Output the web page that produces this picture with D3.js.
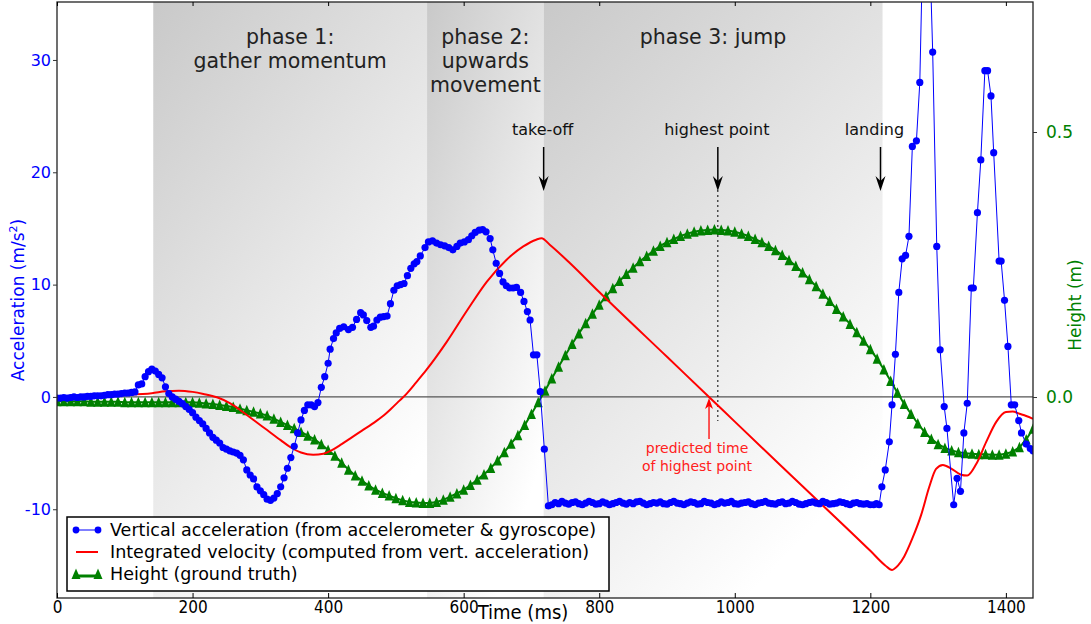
<!DOCTYPE html>
<html><head><meta charset="utf-8">
<script src="https://cdn.jsdelivr.net/npm/d3@7"></script>
<style>body{margin:0;background:#fff}svg{display:block}</style>
</head><body><svg id="c" width="1091" height="624"></svg>
<script>
// ---------------- DATA ----------------
// vertical acceleration (m/s^2): segment sampled every 5 ms from t=0
const accStep = 5;
const accEarly = [-0.1,-0.1,-0.05,-0.1,-0.05,0,-0.05,0,0,0.05,0.05,0.1,0.1,0.1,0.15,0.2,0.2,0.25,0.25,0.3,0.35,0.35,0.4,
  0.45,1.07,1.16,1.8,2.25,2.47,2.3,2.0,1.7,0.9,0.3,0.0,-0.2,-0.4,-0.6,-0.86,-1.1,-1.4,-1.8,-2.1,-2.4,-2.8,
  -3.2,-3.6,-3.85,-4.1,-4.5,-4.65,-4.8,-4.9,-5.0,-5.2,-5.6,-6.5,-6.95,-7.3,-8.0,-8.35,-8.7,-9.1,-9.2,-9.0,
  -8.6,-8.0,-7.2,-6.35,-5.4,-4.4,-3.2,-2.05,-1.2,-0.7,-0.7,-0.86,-0.5,0.86,1.8,3.0];
// [time ms, acceleration]
const accPush = [[403,4.25],[408,5.2],[412,5.7],[417,6.1],[423,6.25],[430,6.0],[436,6.2],[442,6.9],[448,7.5],[452,7.3],
  [457,6.8],[463,6.2],[467,6.3],[472,6.85],[477,7.1],[482,7.15],[487,7.2],[492,8.3],[497,9.5],[502,9.9],[507,10.0],
  [512,10.1],[517,10.8],[522,11.45],[527,11.85],[531,12.05],[536,12.55],[543,13.3],[548,13.8],[554,13.9],[560,13.7],
  [566,13.55],[572,13.45],[578,13.3],[584,13.1],[590,13.4],[595,13.7],[601,13.8],[607,14.0],[612,14.35],[617,14.65],
  [623,14.85],[628,14.9],[633,14.7],[639,14.1],[643,13.1],[648,11.9],[653,11.0],[658,10.25],[663,9.9],[668,9.7],
  [673,9.7],[678,9.75],[684,9.3],[689,8.5],[694,7.6],[698,6.85],[703,3.75],[708,3.75],[713,0.47],[719,-4.65],[725,-9.7]];
// free flight, sampled every 5 ms from t=730
const accFlightStart = 730;
const accFlight = [-9.6,-9.4,-9.5,-9.3,-9.45,-9.55,-9.4,-9.35,-9.5,-9.6,-9.45,-9.3,-9.4,-9.55,-9.5,-9.35,-9.45,-9.6,-9.5,-9.4,
  -9.3,-9.45,-9.55,-9.4,-9.5,-9.35,-9.3,-9.45,-9.6,-9.5,-9.4,-9.45,-9.35,-9.5,-9.55,-9.4,-9.3,-9.45,-9.5,-9.6,
  -9.45,-9.35,-9.4,-9.55,-9.5,-9.3,-9.4,-9.45,-9.6,-9.5,-9.35,-9.45,-9.4,-9.3,-9.5,-9.55,-9.45,-9.4,-9.35,-9.5,
  -9.6,-9.45,-9.4,-9.3,-9.45,-9.5,-9.55,-9.4,-9.35,-9.5,-9.45,-9.3,-9.4,-9.55,-9.6,-9.5,-9.4,-9.35,-9.45,-9.5,
  -9.3,-9.4,-9.55,-9.5,-9.45,-9.35,-9.4,-9.5,-9.6,-9.45,-9.4,-9.5,-9.55,-9.5,-9.6];
const accLanding = [[1205,-9.6],[1209,-9.5],[1213,-9.6],[1217,-8.0],[1222,-6.5],[1228,-4.0],[1232,-0.7],[1237,3.8],
  [1242,9.3],[1247,12.3],[1252,12.6],[1257,14.3],[1262,22.3],[1268,22.8],[1273,28.0],[1278,42.0],[1283,45.0],
  [1288,39.0],[1292,30.7],[1298,13.4],[1303,4.2],[1309,-0.86],[1313,-2.8],[1323,-9.6],[1328,-7.25],[1333,-8.4],
  [1338,-3.2],[1343,-0.56],[1349,9.7],[1352,9.7],[1358,16.4],[1363,21.1],[1369,29.05],[1373,29.05],[1378,26.8],
  [1382,21.75],[1390,12.1],[1393,12.1],[1398,8.6],[1403,4.5],[1408,-0.7],[1413,-0.7],[1419,-2.1],[1423,-3.2],
  [1430,-4.2],[1436,-4.6],[1440,-4.8]];

// integrated velocity (plotted on the left axis): [time ms, value]
const velocity = [[0,0.05],[60,0.15],[100,0.2],[140,0.33],[160,0.5],[180,0.56],[200,0.45],[216,0.27],[236,-0.03],
  [255,-0.56],[270,-1.16],[290,-2.05],[310,-2.95],[330,-3.85],[345,-4.5],[360,-4.95],[378,-5.15],[393,-5.05],
  [405,-4.75],[420,-4.2],[435,-3.6],[450,-3.0],[465,-2.4],[480,-1.75],[493,-1.05],[505,-0.35],[516,0.3],[530,1.3],
  [545,2.4],[575,4.9],[604,7.6],[634,10.25],[663,12.2],[688,13.4],[707,14.0],[715,14.13],[727,13.55],[757,11.9],
  [800,9.34],[900,3.57],[962,0],[1000,-2.2],[1100,-7.95],[1200,-13.7],[1222,-15.0],[1232,-15.4],[1241,-15.0],
  [1250,-14.2],[1262,-12.6],[1275,-10.5],[1287,-8.0],[1297,-6.4],[1307,-6.05],[1320,-6.4],[1333,-6.9],[1343,-7.0],
  [1356,-6.0],[1371,-4.0],[1386,-2.2],[1400,-1.35],[1410,-1.3],[1420,-1.5],[1430,-1.7],[1440,-1.95]];

// height (m), sampled every 10 ms from t=0
const heightStep = 10;
const height = [-0.008,-0.008,-0.008,-0.008,-0.008,-0.009,-0.009,-0.009,-0.009,-0.009,
  -0.01,-0.01,-0.01,-0.01,-0.01,-0.01,-0.01,-0.01,-0.01,-0.01,-0.01,
  -0.011,-0.012,-0.013,-0.015,-0.017,-0.019,-0.022,-0.025,-0.028,-0.031,-0.035,-0.041,-0.047,-0.053,-0.059,
  -0.066,-0.073,-0.08,-0.089,-0.1,-0.111,-0.124,-0.137,-0.148,-0.158,-0.167,-0.175,-0.181,-0.186,-0.191,
  -0.195,-0.198,-0.199,-0.2,-0.2,-0.198,-0.194,-0.188,-0.182,-0.175,-0.166,-0.156,-0.146,-0.134,-0.12,
  -0.104,-0.088,-0.072,-0.053,-0.032,-0.01,
  0.012,0.035,0.057,0.079,0.1,0.12,0.139,0.157,0.174,0.19,0.205,0.219,0.232,0.244,0.256,0.266,0.276,0.285,
  0.292,0.298,0.304,0.308,0.312,0.314,0.315,0.316,0.315,0.314,0.312,0.308,0.304,0.298,0.292,0.285,0.277,
  0.268,0.258,0.247,0.235,0.222,0.209,0.195,0.181,0.166,0.152,0.138,0.122,0.106,0.09,0.072,0.052,0.03,
  0.008,-0.013,-0.032,-0.05,-0.066,-0.079,-0.089,-0.096,-0.101,-0.104,-0.106,-0.107,-0.108,-0.108,-0.109,
  -0.109,-0.107,-0.103,-0.095,-0.08,-0.06];

const xTicks = [0,200,400,600,800,1000,1200,1400];
const accTicks = [-10,0,10,20,30];
const heightTicks = [0.0,0.5];
const phases = [
  {start:142, end:546, label:["phase 1:","gather momentum"]},
  {start:546, end:718, label:["phase 2:","upwards","movement"]},
  {start:718, end:1218, label:["phase 3: jump"]}];
const events = [{t:718,label:"take-off"},{t:975,label:"highest point"},{t:1215,label:"landing"}];
const predictedPeak = 962;
const legendItems = ["Vertical acceleration (from accelerometer & gyroscope)",
  "Integrated velocity (computed from vert. acceleration)","Height (ground truth)"];

// ---------------- CHART ----------------
const svg = d3.select("#c");
const L=57,R=1033,T=2,B=598;
const x = d3.scaleLinear().domain([0,1440]).range([L,R]);
const yA = d3.scaleLinear().domain([-17.9,35.16]).range([B,T]);
const yH = d3.scaleLinear().domain([-0.3792,0.7453]).range([B,T]);
const font = "DejaVu Sans, sans-serif";
const cond = "DejaVu Sans Condensed, DejaVu Sans, sans-serif";

const accel = [];
accEarly.forEach((v,i)=>accel.push([i*accStep,v]));
accPush.forEach(d=>accel.push(d));
accFlight.forEach((v,i)=>accel.push([accFlightStart+i*accStep,v]));
accLanding.forEach(d=>accel.push(d));
const heightData = height.map((v,i)=>[i*heightStep,v]);

const defs = svg.append("defs");
defs.append("clipPath").attr("id","clip").append("rect")
  .attr("x",L).attr("y",T).attr("width",R-L).attr("height",B-T);
const grad = defs.append("linearGradient").attr("id","shade")
  .attr("x1",0).attr("y1",0).attr("x2",0.6).attr("y2",1);
grad.append("stop").attr("offset",0).attr("stop-color","#c9c9c9");
grad.append("stop").attr("offset",1).attr("stop-color","#ffffff");

const plot = svg.append("g").attr("clip-path","url(#clip)");
plot.selectAll("rect.phase").data(phases).join("rect").attr("class","phase")
  .attr("x",d=>x(d.start)).attr("y",T).attr("width",d=>x(d.end)-x(d.start)).attr("height",B-T)
  .attr("fill","url(#shade)");

// phase labels
phases.forEach(p=>{
  const cx=(x(p.start)+x(p.end))/2;
  p.label.forEach((s,i)=>svg.append("text").attr("x",cx).attr("y",44+i*24)
    .attr("text-anchor","middle").attr("font-family",font).attr("font-size",20.5).attr("fill","#222").text(s));
});

// zero line
plot.append("line").attr("x1",L).attr("x2",R).attr("y1",yA(0)).attr("y2",yA(0))
  .attr("stroke","#555").attr("stroke-width",1.3);

// dotted line at highest point
plot.append("line").attr("x1",x(events[1].t)).attr("x2",x(events[1].t)).attr("y1",190).attr("y2",421)
  .attr("stroke","#000").attr("stroke-width",1).attr("stroke-dasharray","2,3");

// height
const triPath = "M0,-5.5 L4.5,5 L-4.5,5 Z";
plot.append("path").datum(heightData).attr("fill","none").attr("stroke","#008000").attr("stroke-width",2)
  .attr("d",d3.line().x(d=>x(d[0])).y(d=>yH(d[1])));
plot.selectAll("path.tri").data(heightData).join("path").attr("class","tri")
  .attr("d",triPath).attr("transform",d=>`translate(${x(d[0])},${yH(d[1])})`).attr("fill","#008000");

// velocity
plot.append("path").datum(velocity).attr("fill","none").attr("stroke","#ff0000").attr("stroke-width",2)
  .attr("d",d3.line().curve(d3.curveMonotoneX).x(d=>x(d[0])).y(d=>yA(d[1])));

// acceleration
plot.append("path").datum(accel).attr("fill","none").attr("stroke","#0000ff").attr("stroke-width",1)
  .attr("d",d3.line().x(d=>x(d[0])).y(d=>yA(d[1])));
plot.selectAll("circle.acc").data(accel).join("circle").attr("class","acc")
  .attr("cx",d=>x(d[0])).attr("cy",d=>yA(d[1])).attr("r",3.6).attr("fill","#0000ff");

// event arrows
events.forEach((e,i)=>{
  const ex=x(e.t);
  const shift = i===2 ? -6 : -1;
  svg.append("text").attr("x",ex+shift).attr("y",135).attr("text-anchor","middle")
    .attr("font-family",font).attr("font-size",16).attr("fill","#111").text(e.label);
  svg.append("line").attr("x1",ex).attr("x2",ex).attr("y1",147).attr("y2",182).attr("stroke","#000").attr("stroke-width",1.5);
  svg.append("path").attr("d","M0,0 L-5,-15 L0,-10 L5,-15 Z").attr("transform",`translate(${ex},191)`).attr("fill","#000");
});

// predicted highest point annotation
const px=x(predictedPeak);
svg.append("line").attr("x1",px).attr("x2",px).attr("y1",439).attr("y2",405).attr("stroke","#ff0000").attr("stroke-width",1.3);
svg.append("path").attr("d","M0,0 L-4,11 L0,8 L4,11 Z").attr("transform",`translate(${px},398)`).attr("fill","#ff0000");
["predicted time","of highest point"].forEach((s,i)=>svg.append("text").attr("x",px-12).attr("y",453+i*18)
  .attr("text-anchor","middle").attr("font-family",font).attr("font-size",14).attr("fill","#ff2020").text(s));

// frame
svg.append("rect").attr("x",L).attr("y",T).attr("width",R-L).attr("height",B-T)
  .attr("fill","none").attr("stroke","#222").attr("stroke-width",1.3);

// axes
const intFmt = d => String(d);
const gx = svg.append("g").attr("transform",`translate(0,${B})`)
  .call(d3.axisBottom(x).tickValues(xTicks).tickSize(-5).tickPadding(3).tickFormat(intFmt));
gx.select(".domain").remove();
gx.selectAll("text").attr("font-family",cond).attr("font-size",17).attr("fill","#000");
const gxt = svg.append("g").attr("transform",`translate(0,${T})`)
  .call(d3.axisTop(x).tickValues(xTicks).tickSize(-4).tickFormat(""));
gxt.select(".domain").remove();

const gl = svg.append("g").attr("transform",`translate(${L},0)`)
  .call(d3.axisLeft(yA).tickValues(accTicks).tickSize(4).tickPadding(2).tickFormat(intFmt));
gl.select(".domain").remove();
gl.selectAll("text").attr("font-family",font).attr("font-size",16).attr("fill","#0000ff");
gl.selectAll("line").attr("stroke","#333");

const gr = svg.append("g").attr("transform",`translate(${R},0)`)
  .call(d3.axisRight(yH).tickValues(heightTicks).tickSize(4).tickPadding(9).tickFormat(d => d.toFixed(1)));
gr.select(".domain").remove();
gr.selectAll("text").attr("font-family",font).attr("font-size",17).attr("fill","#008000");
gr.selectAll("line").attr("stroke","#333");

// axis titles
svg.append("text").attr("transform","translate(24,300) rotate(-90)").attr("text-anchor","middle")
  .attr("font-family",font).attr("font-size",17).attr("fill","#0000ff")
  .html('Acceleration (m/s<tspan font-size="11" dy="-7">2</tspan><tspan dy="7">)</tspan>');
svg.append("text").attr("transform","translate(1081,305) rotate(-90)").attr("text-anchor","middle")
  .attr("font-family",font).attr("font-size",17).attr("fill","#008000").text("Height (m)");
svg.append("text").attr("x",523).attr("y",619).attr("text-anchor","middle")
  .attr("font-family",cond).attr("font-size",20).attr("fill","#000").text("Time (ms)");

// legend
const lg = svg.append("g");
lg.append("rect").attr("x",67).attr("y",517).attr("width",542).attr("height",74)
  .attr("fill","#fff").attr("stroke","#000").attr("stroke-width",1.5);
const ly = [530,552,574];
lg.append("line").attr("x1",76).attr("x2",98).attr("y1",ly[0]).attr("y2",ly[0]).attr("stroke","#0000ff").attr("stroke-width",1);
[76,98].forEach(cx=>lg.append("circle").attr("cx",cx).attr("cy",ly[0]).attr("r",3.4).attr("fill","#0000ff"));
lg.append("line").attr("x1",76).attr("x2",98).attr("y1",ly[1]).attr("y2",ly[1]).attr("stroke","#ff0000").attr("stroke-width",2);
lg.append("line").attr("x1",76).attr("x2",98).attr("y1",ly[2]+2).attr("y2",ly[2]+2).attr("stroke","#008000").attr("stroke-width",3);
[76,98].forEach(cx=>lg.append("path").attr("d",triPath).attr("transform",`translate(${cx},${ly[2]})`).attr("fill","#008000"));
legendItems.forEach((s,i)=>lg.append("text").attr("x",110).attr("y",ly[i]).attr("dy","0.36em")
  .attr("font-family",font).attr("font-size",17.5).attr("fill","#000").text(s));
</script></body></html>
